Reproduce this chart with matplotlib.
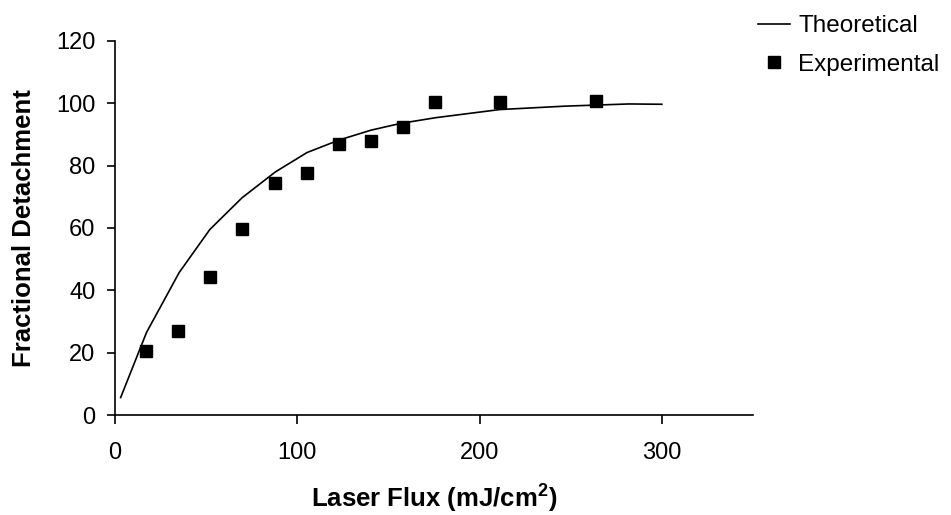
import matplotlib
matplotlib.use("Agg")
import matplotlib.pyplot as plt

# Theoretical detachment curve
theory_flux = [3.1, 17.3, 35.2, 52.0, 69.7, 88.0, 105.3, 122.8, 140.5, 157.0,
               176.0, 211.0, 247.0, 282.0, 300.0]
theory_detach = [5.6, 26.5, 45.7, 59.5, 69.7, 78.0, 84.2, 88.2, 91.4, 93.6,
                 95.4, 98.0, 99.1, 99.8, 99.7]

# Measured detachment
exp_flux = [17.0, 34.5, 52.0, 69.5, 88.0, 105.5, 123.0, 140.5, 158.0, 175.5,
            211.0, 264.0]
exp_detach = [20.5, 26.9, 44.3, 59.7, 74.5, 77.7, 86.8, 88.0, 92.5, 100.3,
              100.3, 100.8]

x_ticks = [0, 100, 200, 300]
y_ticks = [0, 20, 40, 60, 80, 100, 120]

plt.rcParams['font.family'] = ['Liberation Sans', 'DejaVu Sans']

fig = plt.figure(figsize=(9.51, 5.15), dpi=100)
ax = fig.add_axes([115 / 951, 100 / 515, 638 / 951, 374 / 515])

ax.plot(theory_flux, theory_detach, color='black', lw=1.2, label='Theoretical')
ax.plot(exp_flux, exp_detach, linestyle='none', marker='s', ms=9,
        color='black', label='Experimental')

ax.set_xlim(0, 350)
ax.set_ylim(0, 120)
ax.set_xticks(x_ticks)
ax.set_yticks(y_ticks)

for side in ('top', 'right'):
    ax.spines[side].set_visible(False)
for side in ('left', 'bottom'):
    ax.spines[side].set_linewidth(1.2)

ax.tick_params(axis='x', direction='out', length=6.5, width=1.2, pad=13,
               labelsize=17)
ax.tick_params(axis='y', direction='out', length=6, width=1.2, pad=8,
               labelsize=17)

ax.set_xlabel('Laser Flux (mJ/cm$^\\mathregular{2}$)', fontsize=18.5,
              fontweight='bold')
ax.set_ylabel('Fractional Detachment', fontsize=18.5, fontweight='bold')
ax.xaxis.set_label_coords(0.5, -0.222)
ax.xaxis.label.set_va('center')
ax.yaxis.set_label_coords(-0.143, 0.5)
ax.yaxis.label.set_va('center')

leg = ax.legend(loc='upper left', bbox_to_anchor=(758 / 951, 1 - 15 / 515),
                bbox_transform=fig.transFigure, frameon=False, fontsize=17.5,
                handlelength=1.3, handletextpad=0.35, labelspacing=0.68,
                numpoints=1, borderaxespad=0, borderpad=0)

fig.savefig('out.png', dpi=100)
